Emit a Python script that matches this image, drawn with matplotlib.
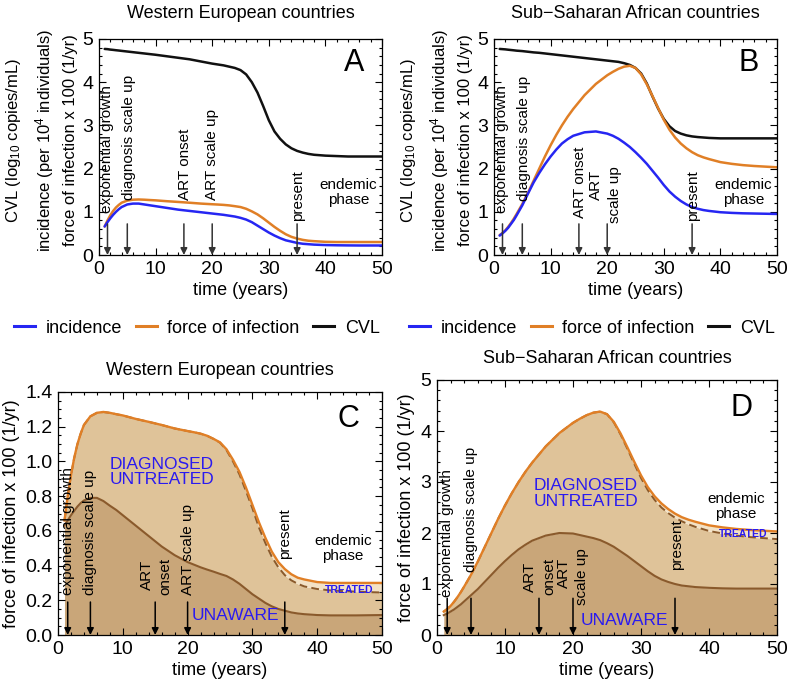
import matplotlib
matplotlib.use("Agg")
import matplotlib.pyplot as plt
from matplotlib.lines import Line2D
from matplotlib.ticker import MultipleLocator, FormatStrFormatter

plt.rcParams['font.family'] = ['Liberation Sans', 'DejaVu Sans']
plt.rcParams['mathtext.fontset'] = 'custom'
plt.rcParams['mathtext.rm'] = 'Liberation Sans'
plt.rcParams['mathtext.it'] = 'Liberation Sans:italic'

# ---------------- data: Western European countries ----------------
t_we = [1, 1.5, 2, 2.5, 3, 3.5, 4, 5, 6, 7, 8, 9, 10, 12, 14, 16, 18, 20, 21, 22,
        23, 24, 25, 26, 27, 28, 29, 30, 31, 32, 33, 34, 35, 36, 37, 38, 40, 42,
        44, 46, 48, 50]
force_we = [0.66, 0.80, 0.92, 1.02, 1.10, 1.16, 1.21, 1.26, 1.28, 1.285, 1.28,
            1.272, 1.265, 1.245, 1.228, 1.21, 1.19, 1.175, 1.168, 1.16, 1.148,
            1.13, 1.11, 1.07, 1.01, 0.94, 0.85, 0.75, 0.65, 0.56, 0.48, 0.42,
            0.38, 0.35, 0.33, 0.32, 0.305, 0.30, 0.30, 0.30, 0.30, 0.30]
nontreated_we = [0.66, 0.80, 0.92, 1.02, 1.10, 1.16, 1.21, 1.26, 1.28, 1.285, 1.28,
                 1.272, 1.265, 1.245, 1.228, 1.21, 1.19, 1.175, 1.168, 1.16, 1.148,
                 1.13, 1.108, 1.065, 1.0, 0.925, 0.83, 0.73, 0.62, 0.53, 0.45, 0.39,
                 0.345, 0.315, 0.295, 0.28, 0.265, 0.257, 0.253, 0.25, 0.247, 0.245]
unaware_we = [0.63, 0.66, 0.69, 0.715, 0.74, 0.76, 0.775, 0.79, 0.79, 0.772, 0.745,
              0.72, 0.69, 0.63, 0.57, 0.51, 0.46, 0.42, 0.405, 0.39, 0.377, 0.365,
              0.352, 0.34, 0.32, 0.295, 0.265, 0.235, 0.21, 0.185, 0.165, 0.15,
              0.14, 0.13, 0.124, 0.12, 0.115, 0.113, 0.113, 0.113, 0.114, 0.115]
incid_we = [0.66, 0.76, 0.85, 0.93, 1.0, 1.06, 1.11, 1.17, 1.19, 1.19, 1.17, 1.15,
            1.13, 1.09, 1.05, 1.02, 0.99, 0.96, 0.945, 0.93, 0.91, 0.89, 0.86,
            0.82, 0.76, 0.68, 0.6, 0.52, 0.45, 0.39, 0.34, 0.31, 0.28, 0.26, 0.25,
            0.24, 0.23, 0.225, 0.222, 0.22, 0.22, 0.22]
cvl_we = [4.77, 4.765, 4.755, 4.748, 4.74, 4.733, 4.725, 4.71, 4.695, 4.68, 4.665,
          4.65, 4.635, 4.60, 4.565, 4.53, 4.48, 4.43, 4.41, 4.39, 4.36, 4.33, 4.28,
          4.18, 4.0, 3.76, 3.45, 3.12, 2.86, 2.69, 2.56, 2.47, 2.41, 2.37, 2.34,
          2.32, 2.30, 2.29, 2.28, 2.28, 2.28, 2.28]

# ---------------- data: Sub-Saharan African countries ----------------
t_ssa = [1, 1.5, 2, 2.5, 3, 3.5, 4, 5, 6, 7, 8, 9, 10, 11, 12, 13, 14, 16, 18, 20,
         21, 22, 23, 24, 25, 26, 27, 28, 29, 30, 31, 32, 33, 34, 35, 36, 37, 38,
         40, 42, 44, 46, 48, 50]
force_ssa = [0.46, 0.51, 0.57, 0.65, 0.74, 0.84, 0.95, 1.18, 1.44, 1.72, 2.0, 2.28,
             2.54, 2.78, 3.0, 3.2, 3.38, 3.7, 3.96, 4.16, 4.24, 4.31, 4.36, 4.38,
             4.33, 4.18, 3.95, 3.68, 3.4, 3.13, 2.9, 2.72, 2.58, 2.47, 2.38, 2.31,
             2.26, 2.22, 2.15, 2.11, 2.08, 2.06, 2.045, 2.03]
nontreated_ssa = [0.46, 0.51, 0.57, 0.65, 0.74, 0.84, 0.95, 1.18, 1.44, 1.72, 2.0,
                  2.28, 2.54, 2.78, 3.0, 3.2, 3.38, 3.7, 3.96, 4.16, 4.24, 4.31,
                  4.36, 4.38, 4.33, 4.17, 3.93, 3.65, 3.36, 3.08, 2.84, 2.65, 2.5,
                  2.39, 2.3, 2.23, 2.17, 2.12, 2.04, 1.99, 1.95, 1.92, 1.9, 1.88]
unaware_ssa = [0.39, 0.42, 0.46, 0.5, 0.55, 0.6, 0.66, 0.78, 0.9, 1.04, 1.18, 1.32,
               1.45, 1.57, 1.68, 1.77, 1.85, 1.95, 2.0, 1.99, 1.96, 1.93, 1.9, 1.86,
               1.8, 1.73, 1.64, 1.55, 1.45, 1.35, 1.25, 1.16, 1.09, 1.04, 1.0, 0.97,
               0.955, 0.94, 0.925, 0.915, 0.91, 0.91, 0.91, 0.91]
incid_ssa = [0.45, 0.5, 0.56, 0.63, 0.72, 0.81, 0.92, 1.15, 1.42, 1.68, 1.9, 2.1,
             2.28, 2.44, 2.58, 2.68, 2.76, 2.84, 2.86, 2.81, 2.76, 2.69, 2.6, 2.5,
             2.38, 2.25, 2.11, 1.95, 1.79, 1.62, 1.47, 1.35, 1.25, 1.17, 1.11, 1.07,
             1.04, 1.02, 0.99, 0.975, 0.965, 0.96, 0.955, 0.95]
cvl_ssa = [4.77, 4.765, 4.76, 4.752, 4.745, 4.738, 4.73, 4.72, 4.705, 4.69, 4.68,
           4.665, 4.65, 4.635, 4.62, 4.605, 4.59, 4.56, 4.53, 4.5, 4.485, 4.47,
           4.44, 4.4, 4.33, 4.2, 3.97, 3.67, 3.39, 3.15, 2.98, 2.87, 2.81, 2.77,
           2.745, 2.73, 2.72, 2.71, 2.70, 2.70, 2.70, 2.70, 2.70, 2.70]

event_times = [1.5, 5, 15, 20, 35]
legend_labels = ["incidence", "force of infection", "CVL"]
titles = ["Western European countries", "Sub\u2212Saharan African countries"]

C_BLUE = '#2626F2'
C_ORANGE = '#E07F26'
C_BLACK = '#111111'
C_BROWN = '#8A5A2C'
F_DARK = '#C9A679'
F_MID = '#DFC399'
F_LIGHT = '#F3E2C6'
TXT_BLUE = '#2A1AF0'

fig = plt.figure(figsize=(7.89, 6.90), dpi=100)

def fbox(l, t, r, b):
    return [l / 789, 1 - b / 690, (r - l) / 789, (b - t) / 690]

axA = fig.add_axes(fbox(99, 39, 382, 255))
axB = fig.add_axes(fbox(494, 39, 777, 255))
axC = fig.add_axes(fbox(58, 392, 382, 635))
axD = fig.add_axes(fbox(437, 380, 777, 635))

def style(ax, ymaj, ymin, ymax, fmt=None):
    ax.set_xlim(0, 50)
    ax.set_ylim(0, ymax)
    ax.xaxis.set_major_locator(MultipleLocator(10))
    ax.xaxis.set_minor_locator(MultipleLocator(2))
    ax.yaxis.set_major_locator(MultipleLocator(ymaj))
    ax.yaxis.set_minor_locator(MultipleLocator(ymin))
    if fmt:
        ax.yaxis.set_major_formatter(FormatStrFormatter(fmt))
    ax.tick_params(which='both', direction='in', top=True, right=True,
                   labelsize=14, width=0.8, pad=4)
    ax.tick_params(which='major', length=5)
    ax.tick_params(which='minor', length=2.5)
    for s in ax.spines.values():
        s.set_linewidth(0.9)
    ax.set_xlabel("time (years)", fontsize=13, labelpad=3)

ylab = ("CVL (log$_{10}$ copies/mL)\n"
        "incidence (per 10$^{4}$ individuals)\n"
        "force of infection x 100 (1/yr)")

# ---------------- top panels ----------------
for ax, t, inc, frc, cvl, title, letter in [
        (axA, t_we, incid_we, force_we, cvl_we, titles[0], "A"),
        (axB, t_ssa, incid_ssa, force_ssa, cvl_ssa, titles[1], "B")]:
    style(ax, 1, 0.2, 5)
    ax.plot(t, cvl, color=C_BLACK, lw=1.8, solid_capstyle='round',
            solid_joinstyle='round')
    ax.plot(t, frc, color=C_ORANGE, lw=1.8, solid_capstyle='round',
            solid_joinstyle='round')
    ax.plot(t, inc, color=C_BLUE, lw=1.8, solid_capstyle='round',
            solid_joinstyle='round')
    ax.set_title(title, fontsize=13, pad=15)
    ax.text(0.9, 0.89, letter, transform=ax.transAxes, fontsize=22,
            ha='center', va='center')
    ax.text(-0.205, 0.53, ylab, transform=ax.transAxes, rotation=90,
            ha='center', va='center', multialignment='center', fontsize=12,
            linespacing=1.6)
    for xe in event_times:
        ax.annotate("", xy=(xe, 0.0), xytext=(xe, 0.72),
                    arrowprops=dict(arrowstyle='-|>', color='#333333', lw=1.1,
                                    mutation_scale=10, shrinkA=0, shrinkB=0))
    ax.text(44.1, 1.44, "endemic\nphase", fontsize=11, ha='center', va='center',
            linespacing=1.1)

def vtext(ax, x, y, s, size=11, color='k'):
    ax.text(x, y, s, rotation=90, ha='center', va='bottom', fontsize=size,
            color=color)

vtext(axA, 1.5, 0.97, "exponential growth")
vtext(axA, 5.3, 1.28, "diagnosis scale up")
vtext(axA, 15.2, 1.28, "ART onset")
vtext(axA, 20.0, 1.28, "ART scale up")
vtext(axA, 35.2, 0.78, "present")

vtext(axB, 1.5, 0.97, "exponential growth")
vtext(axB, 5.3, 1.24, "diagnosis scale up")
vtext(axB, 15.2, 0.86, "ART onset")
vtext(axB, 18.1, 1.28, "ART")
vtext(axB, 21.4, 0.74, "scale up")
vtext(axB, 35.2, 0.78, "present")

handles = [Line2D([], [], color=c, lw=2.2) for c in (C_BLUE, C_ORANGE, C_BLACK)]
for cx in (197 / 789, 592 / 789):
    fig.legend(handles, legend_labels, loc='center', ncol=3,
               bbox_to_anchor=(cx, 1 - 328 / 690), frameon=False, fontsize=13,
               handlelength=1.15, handletextpad=0.6, columnspacing=0.75,
               borderpad=0, borderaxespad=0)

# ---------------- bottom panels ----------------
style(axC, 0.2, 0.05, 1.4, '%.1f')
style(axD, 1, 0.2, 5)

for ax, t, frc, nt, un, title, letter in [
        (axC, t_we, force_we, nontreated_we, unaware_we, titles[0], "C"),
        (axD, t_ssa, force_ssa, nontreated_ssa, unaware_ssa, titles[1], "D")]:
    ax.fill_between(t, 0, un, color=F_DARK, lw=0)
    ax.fill_between(t, un, nt, color=F_MID, lw=0)
    ax.fill_between(t, nt, frc, color=F_LIGHT, lw=0)
    ax.plot(t, un, color=C_BROWN, lw=1.5, solid_joinstyle='round')
    ax.plot(t, nt, color=C_BROWN, lw=1.4, ls=(0, (4, 2.2)))
    ax.plot(t, frc, color=C_ORANGE, lw=1.7, solid_joinstyle='round')
    ax.set_title(title, fontsize=13, pad=12)
    ax.text(0.897, 0.89, letter, transform=ax.transAxes, fontsize=22,
            ha='center', va='center')
    ax.set_ylabel("force of infection x 100 (1/yr)", fontsize=13, labelpad=4)

for xe in event_times:
    axC.annotate("", xy=(xe, 0.0), xytext=(xe, 0.19),
                 arrowprops=dict(arrowstyle='-|>', color='k', lw=1.1,
                                 mutation_scale=10, shrinkA=0, shrinkB=0))
    axD.annotate("", xy=(xe, 0.0), xytext=(xe, 0.72),
                 arrowprops=dict(arrowstyle='-|>', color='k', lw=1.1,
                                 mutation_scale=10, shrinkA=0, shrinkB=0))

vtext(axC, 1.55, 0.23, "exponential growth")
vtext(axC, 4.9, 0.23, "diagnosis scale up")
vtext(axC, 13.7, 0.26, "ART")
vtext(axC, 16.5, 0.23, "onset")
vtext(axC, 20.1, 0.23, "ART scale up")
vtext(axC, 35.0, 0.44, "present")
axC.text(44.0, 0.5, "endemic\nphase", fontsize=11, ha='center', va='center',
         linespacing=1.1)
axC.text(7.9, 0.94, "DIAGNOSED\nUNTREATED", fontsize=12.5, color=TXT_BLUE,
         ha='left', va='center', linespacing=1.05)
axC.text(20.6, 0.115, "UNAWARE", fontsize=12.5, color=TXT_BLUE, ha='left',
         va='center')
axC.text(41.2, 0.26, "TREATED", fontsize=7.5, color=TXT_BLUE, ha='left',
         va='center', fontweight='bold')

vtext(axD, 1.47, 0.75, "exponential growth")
vtext(axD, 5.05, 1.24, "diagnosis scale up")
vtext(axD, 13.7, 0.85, "ART")
vtext(axD, 16.5, 0.78, "onset")
vtext(axD, 18.6, 0.92, "ART")
vtext(axD, 21.3, 0.59, "scale up")
vtext(axD, 35.3, 1.27, "present")
axD.text(44.0, 2.52, "endemic\nphase", fontsize=11, ha='center', va='center',
         linespacing=1.1)
axD.text(14.2, 2.78, "DIAGNOSED\nUNTREATED", fontsize=12.5, color=TXT_BLUE,
         ha='left', va='center', linespacing=1.05)
axD.text(21.1, 0.29, "UNAWARE", fontsize=12.5, color=TXT_BLUE, ha='left',
         va='center')
axD.text(41.4, 1.98, "TREATED", fontsize=7.5, color=TXT_BLUE, ha='left',
         va='center', fontweight='bold')

fig.savefig("out.png", dpi=100)
